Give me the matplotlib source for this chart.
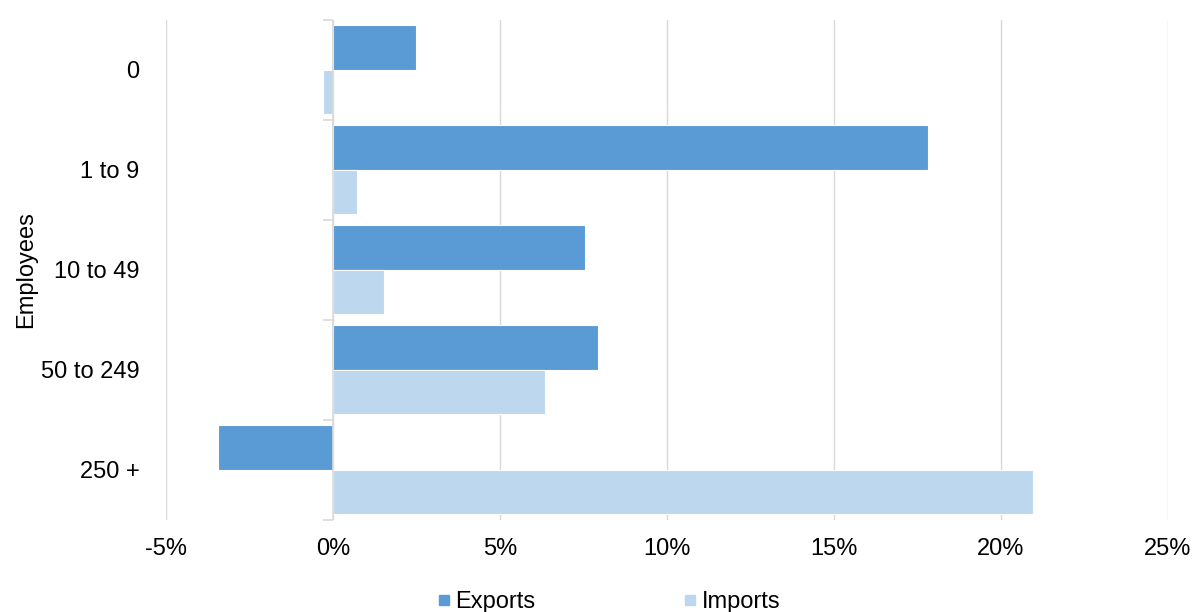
import matplotlib
matplotlib.use("Agg")
import matplotlib.pyplot as plt
import numpy as np
from matplotlib.lines import Line2D

plt.rcParams['font.family'] = ['Liberation Sans', 'DejaVu Sans']

categories = ["0", "1 to 9", "10 to 49", "50 to 249", "250 +"]
exports = [2.48, 17.8, 7.55, 7.93, -3.44]
imports = [-0.3, 0.72, 1.53, 6.35, 20.96]
xticks = [-5, 0, 5, 10, 15, 20, 25]

col_exp = "#5B9BD5"
col_imp = "#BDD7EE"
grid_col = "#D9D9D9"
fs = 17

fig = plt.figure(figsize=(11.97, 6.12), dpi=100)
ax = fig.add_axes([166 / 1197, 1 - 519.5 / 612, 1002 / 1197, 500 / 612])

y = np.arange(len(categories))
h = 0.445
ax.barh(y - h / 2, exports, height=h, color=col_exp, edgecolor="white", linewidth=0.8, zorder=2)
ax.barh(y + h / 2, imports, height=h, color=col_imp, edgecolor="white", linewidth=0.8, zorder=2)

ax.set_xlim(xticks[0], xticks[-1])
ax.set_ylim(len(categories) - 0.5, -0.5)
ax.set_xticks(xticks)
ax.set_xticklabels(["%d%%" % t for t in xticks], fontsize=fs)
ax.set_yticks(y)
ax.set_yticklabels(categories, fontsize=fs)
ax.tick_params(axis="both", length=0)
ax.tick_params(axis="x", pad=13)
ax.tick_params(axis="y", pad=19)

ax.grid(axis="x", color=grid_col, linewidth=1, zorder=0)
for s in ax.spines.values():
    s.set_visible(False)

# category axis at zero with boundary ticks
ax.axvline(0, color=grid_col, linewidth=1.2, zorder=3)
bounds = np.arange(len(categories) + 1) - 0.5
ax.plot(np.zeros_like(bounds), bounds, linestyle="none", marker=0, markersize=7,
        markeredgewidth=1.2, color=grid_col, zorder=3, clip_on=False)

ax.set_ylabel("Employees", fontsize=fs, labelpad=3)

handles = [Line2D([], [], linestyle="none", marker="s", markersize=7, color=col_exp),
           Line2D([], [], linestyle="none", marker="s", markersize=7, color=col_imp)]
fig.legend(handles, ["Exports", "Imports"], loc="lower center", ncol=2, frameon=False,
           fontsize=fs, bbox_to_anchor=(0.508, -0.037), columnspacing=6.2,
           handletextpad=0.15, handlelength=0.7)

fig.savefig("out.png", dpi=100)
